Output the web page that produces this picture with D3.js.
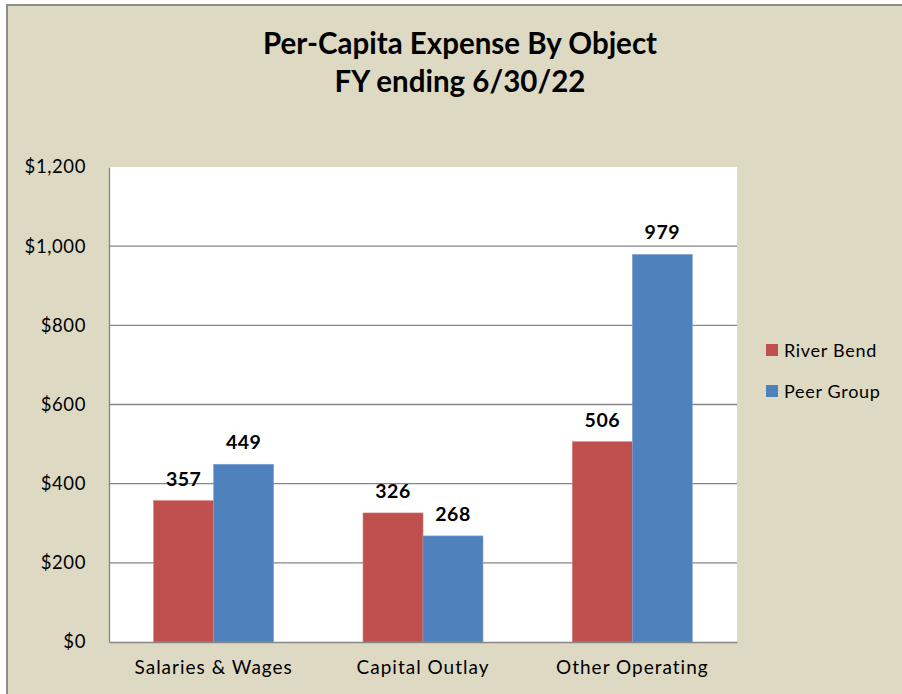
<!DOCTYPE html>
<html><head><meta charset="utf-8">
<script src="https://cdn.jsdelivr.net/npm/d3@7/dist/d3.min.js"></script>
<style>body{margin:0;background:#fff}svg{display:block}</style>
</head><body>
<svg id="chart" width="902" height="694"></svg>
<script>
const categories = ["Salaries & Wages", "Capital Outlay", "Other Operating"];
const seriesNames = ["River Bend", "Peer Group"];
const riverBend = [357, 326, 506];
const peerGroup = [449, 268, 979];
const yTicks = [0, 200, 400, 600, 800, 1000, 1200];
const colors = ["#C0504D", "#4F81BD"];
const titleLines = ["Per-Capita Expense By Object", "FY ending 6/30/22"];

const svg = d3.select("#chart");
const W = 902, H = 694;
const font = "Lato, 'Open Sans', sans-serif";

svg.append("rect").attr("x", 7).attr("y", 5).attr("width", W).attr("height", H)
  .attr("fill", "#DDD9C3").attr("stroke", "#8C8C8C").attr("stroke-width", 2);

const m = {left: 109, top: 167, right: 737, bottom: 642};
const x0 = d3.scaleBand().domain(categories).range([m.left, m.right]).paddingInner(0.427).paddingOuter(0.2135);
const x1 = d3.scaleBand().domain(seriesNames).range([0, x0.bandwidth()]);
const y = d3.scaleLinear().domain([0, 1200]).range([m.bottom, m.top]);

svg.append("rect").attr("x", m.left).attr("y", m.top).attr("width", m.right - m.left)
  .attr("height", m.bottom - m.top).attr("fill", "#fff");

// gridlines
svg.append("g").selectAll("line").data(yTicks.filter(d => d > 0 && d < 1200)).join("line")
  .attr("x1", m.left).attr("x2", m.right).attr("y1", d => y(d)).attr("y2", d => y(d))
  .attr("stroke", "#868686").attr("stroke-width", 1.3);

// y axis
const yAxis = svg.append("g").attr("transform", `translate(${m.left},0)`)
  .call(d3.axisLeft(y).tickValues(yTicks).tickSize(0).tickPadding(23)
    .tickFormat(d => "$" + d3.format(",")(d)));
yAxis.select(".domain").attr("stroke", "#868686").attr("stroke-width", 1.3);
yAxis.selectAll("text").attr("font-family", font).attr("font-size", 18.5)
  .attr("letter-spacing", 0.6).attr("fill", "#000");

const data = categories.map((c, i) => ({cat: c, vals: [riverBend[i], peerGroup[i]]}));
const groups = svg.append("g").selectAll("g").data(data).join("g")
  .attr("transform", d => `translate(${x0(d.cat)},0)`);
groups.selectAll("rect").data(d => d.vals.map((v, j) => ({name: seriesNames[j], v, j}))).join("rect")
  .attr("x", d => x1(d.name)).attr("width", x1.bandwidth())
  .attr("y", d => y(d.v)).attr("height", d => y(0) - y(d.v))
  .attr("fill", d => colors[d.j]).attr("stroke", d => d.j ? "#7FA3D4" : "#D17A77").attr("stroke-width", 0.6);
groups.selectAll("text").data(d => d.vals.map((v, j) => ({name: seriesNames[j], v, j}))).join("text")
  .attr("x", d => x1(d.name) + x1.bandwidth() / 2).attr("y", d => y(d.v) - 15)
  .attr("text-anchor", "middle").attr("font-family", font).attr("font-weight", "bold")
  .attr("font-size", 19.5).attr("letter-spacing", 0.5).text(d => d.v);

// x axis
const xAxis = svg.append("g").attr("transform", `translate(0,${m.bottom})`)
  .call(d3.axisBottom(x0).tickSize(0).tickPadding(19));
xAxis.select(".domain").attr("stroke", "#868686").attr("stroke-width", 1.3);
xAxis.selectAll("text").attr("font-family", font).attr("font-size", 19)
  .attr("letter-spacing", 1).attr("fill", "#000");

// title
svg.append("g").selectAll("text").data(titleLines).join("text")
  .attr("x", 460).attr("y", (d, i) => 54 + i * 38).attr("text-anchor", "middle")
  .attr("font-family", font).attr("font-weight", "bold").attr("font-size", 29.5).text(d => d);

// legend
const lg = svg.append("g").selectAll("g").data(seriesNames).join("g")
  .attr("transform", (d, i) => `translate(766,${344 + i * 41})`);
lg.append("rect").attr("width", 12).attr("height", 12).attr("fill", (d, i) => colors[i]);
lg.append("text").attr("x", 18).attr("y", 13).attr("font-family", font).attr("font-size", 18)
  .attr("letter-spacing", 0.7).text(d => d);
</script>
</body></html>
